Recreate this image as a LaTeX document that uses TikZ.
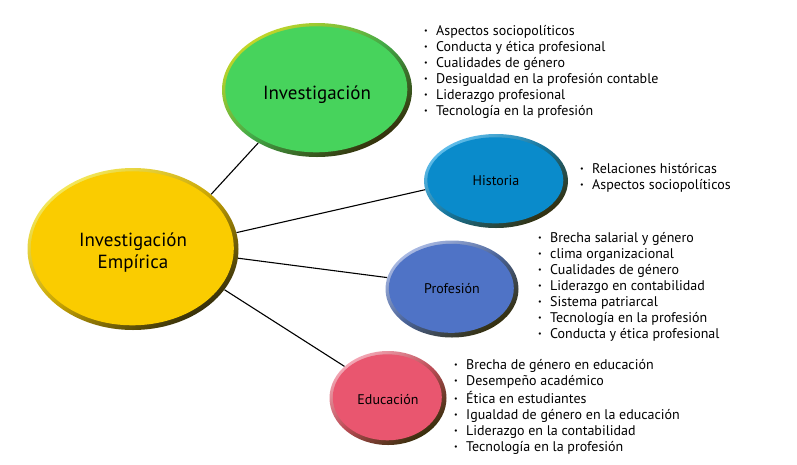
\documentclass[tikz,border=0pt]{standalone}
\usepackage{fontspec}
\setmainfont{PT Sans}
\usepackage{xcolor}
\usepackage{tikz}
\usetikzlibrary{shapes,positioning,calc}
\definecolor{bubyellow}{RGB}{250,204,0}
\definecolor{bubgreen}{RGB}{71,211,92}
\definecolor{bubblue}{RGB}{10,139,203}
\definecolor{bubviolet}{RGB}{79,115,198}
\definecolor{bubred}{RGB}{233,86,111}
\definecolor{rimyellow}{RGB}{244,232,90}
\definecolor{rimgreen}{RGB}{196,214,40}
\definecolor{rimblue}{RGB}{96,190,236}
\definecolor{rimviolet}{RGB}{170,186,228}
\definecolor{rimred}{RGB}{244,168,182}
\definecolor{rimdark}{RGB}{52,46,10}
\newcommand{\itm}[1]{\strut\makebox[12pt][l]{\raisebox{1.5pt}{\fontsize{8}{8}\selectfont\textbullet}}#1}
\newcommand{\lowr}[2][4pt]{\raisebox{-#1}[\height][\depth]{#2}}

\begin{document}
\begin{tikzpicture}[
    x=1pt, y=-1pt,
    bubble/.style n args={3}{ellipse, inner sep=0pt, align=center,
        top color=#2, bottom color=rimdark, middle color=#1!75!rimdark, shading angle=35,
        path picture={\fill[#1] let \p1=(path picture bounding box.south west),
            \p2=(path picture bounding box.north east) in
            ($(\p1)!0.5!(\p2)+(-0.7pt,0.7pt)$) ellipse ({(\x2-\x1)/2-4pt} and {(\y2-\y1)/2-4pt});}},
    list/.style={anchor=north west, inner sep=0pt, align=left, font=\fontsize{14}{16}\selectfont},
    link/.style={line width=1.1pt}
]
    \useasboundingbox (0,0) rectangle (797,464);

    \node[bubble={bubyellow}{rimyellow}{}, minimum width=211pt, minimum height=162pt,
        font=\fontsize{19}{22}\selectfont] (emp) at (133,249) {\lowr{Investigación}\\\lowr{Empírica}};
    \node[bubble={bubgreen}{rimgreen}{}, minimum width=190pt, minimum height=134pt,
        font=\fontsize{19}{22}\selectfont] (inv) at (317,90) {\lowr[5pt]{Investigación}};
    \node[bubble={bubblue}{rimblue}{}, minimum width=144pt, minimum height=94pt,
        font=\fontsize{14}{16}\selectfont] (hist) at (496,181) {Historia};
    \node[bubble={bubviolet}{rimviolet}{}, minimum width=133pt, minimum height=97pt,
        font=\fontsize{14}{16}\selectfont] (prof) at (452,289) {Profesión};
    \node[bubble={bubred}{rimred}{}, minimum width=117pt, minimum height=94pt,
        font=\fontsize{14}{16}\selectfont] (edu) at (388,398) {\lowr[2pt]{Educación}};

    \node[list] (invlist) at (424,24) {\itm{Aspectos sociopolíticos}\\\itm{Conducta y ética profesional}\\
        \itm{Cualidades de género}\\\itm{Desigualdad en la profesión contable}\\
        \itm{Liderazgo profesional}\\\itm{Tecnología en la profesión}};
    \node[list] (histlist) at (580,162) {\itm{Relaciones históricas}\\\itm{Aspectos sociopolíticos}};
    \node[list] (proflist) at (538,231) {\itm{Brecha salarial y género}\\\itm{clima organizacional}\\
        \itm{Cualidades de género}\\\itm{Liderazgo en contabilidad}\\\itm{Sistema patriarcal}\\
        \itm{Tecnología en la profesión}\\\itm{Conducta y ética profesional}};
    \node[list] (edulist) at (454,358) {\itm{Brecha de género en educación}\\\itm{Desempeño académico}\\
        \itm{Ética en estudiantes}\\\itm{Igualdad de género en la educación}\\
        \itm{Liderazgo en la contabilidad}\\\itm{Tecnología en la profesión}};

    \draw[link] (emp.35) -- (inv.222);
    \draw[link] (emp.9) -- (hist.187);
    \draw[link] (emp.355) -- (prof.170);
    \draw[link] (emp.336) -- (edu.144);
\end{tikzpicture}
\end{document}
